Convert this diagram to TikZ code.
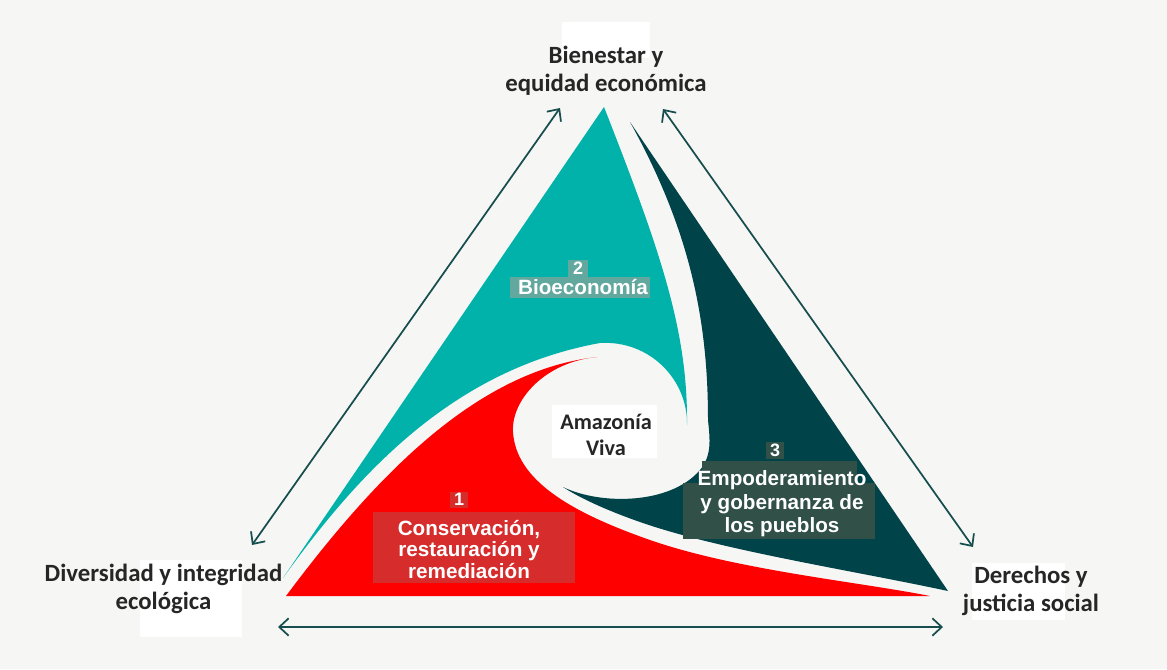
\documentclass[tikz,border=0pt]{standalone}
\usepackage{fontspec}
\setmainfont{Carlito}
\newfontfamily\arialf{Liberation Sans}
\usetikzlibrary{arrows.meta}
\definecolor{bg}{RGB}{246,246,244}
\definecolor{tealA}{RGB}{0,178,169}
\definecolor{darkA}{RGB}{0,67,72}
\definecolor{redA}{RGB}{255,0,0}
\definecolor{arrowc}{RGB}{22,78,78}
\definecolor{txt}{RGB}{38,38,38}
\definecolor{redbox}{RGB}{214,44,44}
\definecolor{tealbox}{RGB}{98,168,158}
\definecolor{darkbox}{RGB}{48,80,72}
\tikzset{
  outl/.style={font=\fontsize{18.6}{21}\selectfont\bfseries, text=txt, align=center, inner sep=0pt},
  centl/.style={font=\fontsize{16.7}{19.5}\selectfont\bfseries, text=txt, align=center, inner sep=0pt},
  innl/.style={font=\arialf\bfseries\fontsize{15.5}{16.1}\selectfont, text=white, align=center, inner sep=0pt},
  digl/.style={font=\arialf\bfseries\fontsize{13.5}{16}\selectfont, text=white, inner sep=0pt, anchor=base},
  arr/.style={{Straight Barb[length=7pt,width=13pt]}-{Straight Barb[length=7pt,width=13pt]}, line width=1.3pt, draw=arrowc}
}
\begin{document}
\begin{tikzpicture}[x=0.75pt,y=-0.75pt]
\fill[bg] (0,0) rectangle (1167,669);
\useasboundingbox (0,0) rectangle (1167,669);
% white label backgrounds
\fill[white] (562,22) rectangle (650,58);
\fill[white] (140,560) rectangle (242,637);
\fill[white] (972,563) rectangle (1065,620);
\fill[white] (552,405) rectangle (657,458);
% teal part
\fill[tealA] (604,107) -- (283,578) .. controls (355,478) and (450,370) .. (600,343)
  .. controls (650,340) and (688,380) .. (687,425)
  .. controls (688,330) and (660,250) .. (604,107) -- cycle;
% red part
\fill[redA] (286,596) .. controls (380,470) and (480,370) .. (597,357)
  .. controls (545,362) and (511,400) .. (513,432)
  .. controls (516,480) and (570,512) .. (650,540)
  .. controls (736,570) and (860,582) .. (930,596) -- cycle;
% dark part
\fill[darkA] (630,122) -- (948,591) .. controls (850,570) and (720,550) .. (640,522)
  .. controls (600,508) and (575,495) .. (563,487)
  .. controls (600,505) and (670,505) .. (700,470)
  .. controls (712,455) and (710,440) .. (708,420)
  .. controls (708,320) and (690,230) .. (630,122) -- cycle;
% label boxes
\fill[redbox] (450,492) rectangle (468,508);
\fill[redbox] (373,512) rectangle (575,583);
\fill[tealbox] (568,260) rectangle (588,277);
\fill[tealbox] (510,277) rectangle (650,298);
\fill[darkbox] (766,442) rectangle (784,459);
\fill[darkbox] (702,461) rectangle (857,483);
\fill[darkbox] (683,483) rectangle (875,539);
% outer labels
\node[outl] (top) at (606,70.5) {Bienestar y\\equidad económica};
\node[outl] (left) at (163.5,588.5) {Diversidad y integridad\\ecológica};
\node[outl] (right) at (1031,591) {Derechos y\\justicia social};
\node[centl] (center) at (606,434.5) {Amazonía\\Viva};
% inner labels
\node[digl] (n1) at (459,505) {1};
\node[innl] (t1) at (469,549.5) {Conservación,\\restauración y\\remediación};
\node[digl] (n2) at (578,274.5) {2};
\node[innl, anchor=base] (t2) at (583,294) {Bioeconomía};
\node[digl] (n3) at (775,456) {3};
\node[innl, font=\arialf\bfseries\fontsize{15.5}{17.6}\selectfont] (t3) at (782,504) {Empoderamiento\\y gobernanza de\\los pueblos};
% arrows
\coordinate (la) at (560,108);
\coordinate (lb) at (252,545);
\coordinate (ra) at (663,109);
\coordinate (rb) at (973,547);
\coordinate (ba) at (278,627);
\coordinate (bb) at (943,627);
\draw[arr] (lb) -- (la);
\draw[arr] (ra) -- (rb);
\draw[arr] (ba) -- (bb);
\end{tikzpicture}
\end{document}
